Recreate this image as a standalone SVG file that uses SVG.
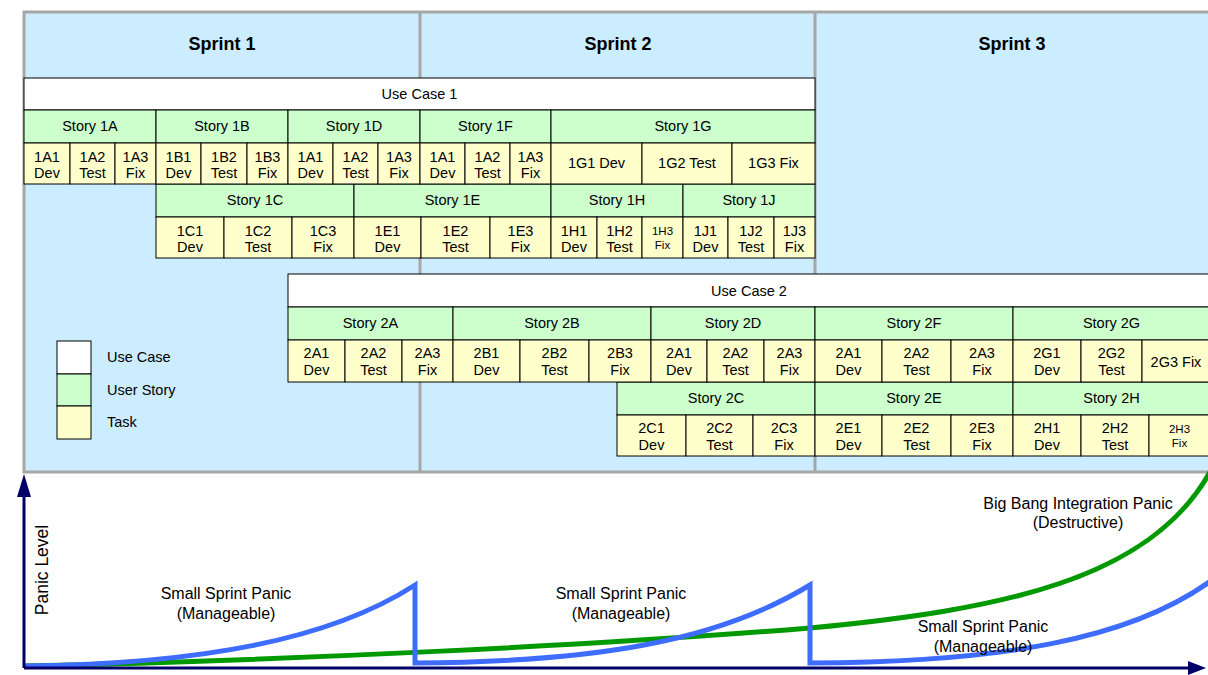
<svg xmlns="http://www.w3.org/2000/svg" width="1208" height="675" viewBox="0 0 1208 675">
<style>
text{font-family:"Liberation Sans",Arial,sans-serif;fill:#000;text-anchor:middle}
.t{font-size:14.5px}
.s{font-size:11.5px}
.h{font-size:18px;font-weight:bold}
.c{font-size:16px}
.uc{fill:#fff;stroke:#000;stroke-width:1}
.st{fill:#CCFFCC;stroke:#000;stroke-width:1}
.tk{fill:#FFFFCC;stroke:#000;stroke-width:1}
.div{stroke:#A6A6A6;stroke-width:3;fill:none}
.bg{fill:#CCECFF;stroke:#A6A6A6;stroke-width:3}
.blue{fill:none;stroke:#3D6CFF;stroke-width:5}
.green{fill:none;stroke:#009900;stroke-width:5}
.ax{stroke:#000066;stroke-width:3;fill:none}
</style>
<rect width="1208" height="675" fill="#fff"/>
<g id="sprints">
<rect x="24" y="12" width="1200" height="460" class="bg"/>
<line x1="420" y1="12" x2="420" y2="472" class="div"/>
<line x1="815" y1="12" x2="815" y2="472" class="div"/>
<text x="222" y="50" class="h">Sprint 1</text>
<text x="618" y="50" class="h">Sprint 2</text>
<text x="1012" y="50" class="h">Sprint 3</text>
</g>
<g id="usecase1">
<rect x="24" y="78" width="791" height="32" class="uc"/>
<text x="419.5" y="99" class="t">Use Case 1</text>
</g>
<g id="stories1">
<rect x="24" y="110" width="132" height="33" class="st"/><text x="90" y="131" class="t">Story 1A</text>
<rect x="156" y="110" width="132" height="33" class="st"/><text x="222" y="131" class="t">Story 1B</text>
<rect x="288" y="110" width="132" height="33" class="st"/><text x="354" y="131" class="t">Story 1D</text>
<rect x="420" y="110" width="131" height="33" class="st"/><text x="485.5" y="131" class="t">Story 1F</text>
<rect x="551" y="110" width="264" height="33" class="st"/><text x="683" y="131" class="t">Story 1G</text>
<rect x="156" y="184" width="198" height="33" class="st"/><text x="255" y="205" class="t">Story 1C</text>
<rect x="354" y="184" width="197" height="33" class="st"/><text x="452.5" y="205" class="t">Story 1E</text>
<rect x="551" y="184" width="132" height="33" class="st"/><text x="617" y="205" class="t">Story 1H</text>
<rect x="683" y="184" width="132" height="33" class="st"/><text x="749" y="205" class="t">Story 1J</text>
</g>
<g id="tasks1">
<rect x="24" y="143" width="46" height="41" class="tk"/><text x="47" y="161.5" class="t">1A1</text><text x="47" y="178" class="t">Dev</text>
<rect x="70" y="143" width="45" height="41" class="tk"/><text x="92.5" y="161.5" class="t">1A2</text><text x="92.5" y="178" class="t">Test</text>
<rect x="115" y="143" width="41" height="41" class="tk"/><text x="135.5" y="161.5" class="t">1A3</text><text x="135.5" y="178" class="t">Fix</text>
<rect x="156" y="143" width="45" height="41" class="tk"/><text x="178.5" y="161.5" class="t">1B1</text><text x="178.5" y="178" class="t">Dev</text>
<rect x="201" y="143" width="46" height="41" class="tk"/><text x="224" y="161.5" class="t">1B2</text><text x="224" y="178" class="t">Test</text>
<rect x="247" y="143" width="41" height="41" class="tk"/><text x="267.5" y="161.5" class="t">1B3</text><text x="267.5" y="178" class="t">Fix</text>
<rect x="288" y="143" width="45" height="41" class="tk"/><text x="310.5" y="161.5" class="t">1A1</text><text x="310.5" y="178" class="t">Dev</text>
<rect x="333" y="143" width="45" height="41" class="tk"/><text x="355.5" y="161.5" class="t">1A2</text><text x="355.5" y="178" class="t">Test</text>
<rect x="378" y="143" width="42" height="41" class="tk"/><text x="399" y="161.5" class="t">1A3</text><text x="399" y="178" class="t">Fix</text>
<rect x="420" y="143" width="45" height="41" class="tk"/><text x="442.5" y="161.5" class="t">1A1</text><text x="442.5" y="178" class="t">Dev</text>
<rect x="465" y="143" width="45" height="41" class="tk"/><text x="487.5" y="161.5" class="t">1A2</text><text x="487.5" y="178" class="t">Test</text>
<rect x="510" y="143" width="41" height="41" class="tk"/><text x="530.5" y="161.5" class="t">1A3</text><text x="530.5" y="178" class="t">Fix</text>
<rect x="551" y="143" width="91" height="41" class="tk"/><text x="596.5" y="168" class="t">1G1 Dev</text>
<rect x="642" y="143" width="90" height="41" class="tk"/><text x="687" y="168" class="t">1G2 Test</text>
<rect x="732" y="143" width="83" height="41" class="tk"/><text x="773.5" y="168" class="t">1G3 Fix</text>
<rect x="156" y="217" width="68" height="41" class="tk"/><text x="190" y="235.5" class="t">1C1</text><text x="190" y="252" class="t">Dev</text>
<rect x="224" y="217" width="68" height="41" class="tk"/><text x="258" y="235.5" class="t">1C2</text><text x="258" y="252" class="t">Test</text>
<rect x="292" y="217" width="62" height="41" class="tk"/><text x="323" y="235.5" class="t">1C3</text><text x="323" y="252" class="t">Fix</text>
<rect x="354" y="217" width="67" height="41" class="tk"/><text x="387.5" y="235.5" class="t">1E1</text><text x="387.5" y="252" class="t">Dev</text>
<rect x="421" y="217" width="69" height="41" class="tk"/><text x="455.5" y="235.5" class="t">1E2</text><text x="455.5" y="252" class="t">Test</text>
<rect x="490" y="217" width="61" height="41" class="tk"/><text x="520.5" y="235.5" class="t">1E3</text><text x="520.5" y="252" class="t">Fix</text>
<rect x="551" y="217" width="46" height="41" class="tk"/><text x="574" y="235.5" class="t">1H1</text><text x="574" y="252" class="t">Dev</text>
<rect x="597" y="217" width="45" height="41" class="tk"/><text x="619.5" y="235.5" class="t">1H2</text><text x="619.5" y="252" class="t">Test</text>
<rect x="642" y="217" width="41" height="41" class="tk"/><text x="662.5" y="234.5" class="s">1H3</text><text x="662.5" y="248.5" class="s">Fix</text>
<rect x="683" y="217" width="45" height="41" class="tk"/><text x="705.5" y="235.5" class="t">1J1</text><text x="705.5" y="252" class="t">Dev</text>
<rect x="728" y="217" width="46" height="41" class="tk"/><text x="751" y="235.5" class="t">1J2</text><text x="751" y="252" class="t">Test</text>
<rect x="774" y="217" width="41" height="41" class="tk"/><text x="794.5" y="235.5" class="t">1J3</text><text x="794.5" y="252" class="t">Fix</text>
</g>
<g id="usecase2">
<rect x="288" y="274" width="922" height="33" class="uc"/>
<text x="749" y="296" class="t">Use Case 2</text>
</g>
<g id="stories2">
<rect x="288" y="307" width="165" height="33" class="st"/><text x="370.5" y="328" class="t">Story 2A</text>
<rect x="453" y="307" width="198" height="33" class="st"/><text x="552" y="328" class="t">Story 2B</text>
<rect x="651" y="307" width="164" height="33" class="st"/><text x="733" y="328" class="t">Story 2D</text>
<rect x="815" y="307" width="198" height="33" class="st"/><text x="914" y="328" class="t">Story 2F</text>
<rect x="1013" y="307" width="197" height="33" class="st"/><text x="1111.5" y="328" class="t">Story 2G</text>
<rect x="617" y="382" width="198" height="33" class="st"/><text x="716" y="403" class="t">Story 2C</text>
<rect x="815" y="382" width="198" height="33" class="st"/><text x="914" y="403" class="t">Story 2E</text>
<rect x="1013" y="382" width="197" height="33" class="st"/><text x="1111.5" y="403" class="t">Story 2H</text>
</g>
<g id="tasks2">
<rect x="288" y="340" width="57" height="42" class="tk"/><text x="316.5" y="358" class="t">2A1</text><text x="316.5" y="374.5" class="t">Dev</text>
<rect x="345" y="340" width="57" height="42" class="tk"/><text x="373.5" y="358" class="t">2A2</text><text x="373.5" y="374.5" class="t">Test</text>
<rect x="402" y="340" width="51" height="42" class="tk"/><text x="427.5" y="358" class="t">2A3</text><text x="427.5" y="374.5" class="t">Fix</text>
<rect x="453" y="340" width="67" height="42" class="tk"/><text x="486.5" y="358" class="t">2B1</text><text x="486.5" y="374.5" class="t">Dev</text>
<rect x="520" y="340" width="69" height="42" class="tk"/><text x="554.5" y="358" class="t">2B2</text><text x="554.5" y="374.5" class="t">Test</text>
<rect x="589" y="340" width="62" height="42" class="tk"/><text x="620" y="358" class="t">2B3</text><text x="620" y="374.5" class="t">Fix</text>
<rect x="651" y="340" width="56" height="42" class="tk"/><text x="679" y="358" class="t">2A1</text><text x="679" y="374.5" class="t">Dev</text>
<rect x="707" y="340" width="57" height="42" class="tk"/><text x="735.5" y="358" class="t">2A2</text><text x="735.5" y="374.5" class="t">Test</text>
<rect x="764" y="340" width="51" height="42" class="tk"/><text x="789.5" y="358" class="t">2A3</text><text x="789.5" y="374.5" class="t">Fix</text>
<rect x="815" y="340" width="67" height="42" class="tk"/><text x="848.5" y="358" class="t">2A1</text><text x="848.5" y="374.5" class="t">Dev</text>
<rect x="882" y="340" width="69" height="42" class="tk"/><text x="916.5" y="358" class="t">2A2</text><text x="916.5" y="374.5" class="t">Test</text>
<rect x="951" y="340" width="62" height="42" class="tk"/><text x="982" y="358" class="t">2A3</text><text x="982" y="374.5" class="t">Fix</text>
<rect x="1013" y="340" width="68" height="42" class="tk"/><text x="1047" y="358" class="t">2G1</text><text x="1047" y="374.5" class="t">Dev</text>
<rect x="1081" y="340" width="61" height="42" class="tk"/><text x="1111.5" y="358" class="t">2G2</text><text x="1111.5" y="374.5" class="t">Test</text>
<rect x="1142" y="340" width="68" height="42" class="tk"/><text x="1176" y="366.5" class="t">2G3 Fix</text>
<rect x="617" y="415" width="69" height="41" class="tk"/><text x="651.5" y="433" class="t">2C1</text><text x="651.5" y="449.5" class="t">Dev</text>
<rect x="686" y="415" width="67" height="41" class="tk"/><text x="719.5" y="433" class="t">2C2</text><text x="719.5" y="449.5" class="t">Test</text>
<rect x="753" y="415" width="62" height="41" class="tk"/><text x="784" y="433" class="t">2C3</text><text x="784" y="449.5" class="t">Fix</text>
<rect x="815" y="415" width="67" height="41" class="tk"/><text x="848.5" y="433" class="t">2E1</text><text x="848.5" y="449.5" class="t">Dev</text>
<rect x="882" y="415" width="69" height="41" class="tk"/><text x="916.5" y="433" class="t">2E2</text><text x="916.5" y="449.5" class="t">Test</text>
<rect x="951" y="415" width="62" height="41" class="tk"/><text x="982" y="433" class="t">2E3</text><text x="982" y="449.5" class="t">Fix</text>
<rect x="1013" y="415" width="68" height="41" class="tk"/><text x="1047" y="433" class="t">2H1</text><text x="1047" y="449.5" class="t">Dev</text>
<rect x="1081" y="415" width="68" height="41" class="tk"/><text x="1115" y="433" class="t">2H2</text><text x="1115" y="449.5" class="t">Test</text>
<rect x="1149" y="415" width="61" height="41" class="tk"/><text x="1179.5" y="432.5" class="s">2H3</text><text x="1179.5" y="446.5" class="s">Fix</text>
</g>
<g id="legend">
<rect x="57" y="341" width="34" height="33" class="uc"/>
<rect x="57" y="374" width="34" height="32" class="st"/>
<rect x="57" y="406" width="34" height="33" class="tk"/>
<text x="107" y="362" class="t" style="text-anchor:start">Use Case</text>
<text x="107" y="395" class="t" style="text-anchor:start">User Story</text>
<text x="107" y="427" class="t" style="text-anchor:start">Task</text>
</g>
<g id="connectors">
<path class="green" d="M24,666 C300,660 600,645 810,628 C1000,610 1150,580 1210,472"/>
<path class="blue" d="M24,666 C200,664 330,640 415,585 L415,663 C600,662 720,640 810,585 L810,663 C1000,662 1130,640 1212,580"/>
<line class="ax" x1="24" y1="668" x2="24" y2="490"/>
<polygon points="24,474 17,497 31,497" fill="#000066"/>
<line class="ax" x1="24" y1="668" x2="1190" y2="668"/>
<polygon points="1206,668 1188,661 1188,675" fill="#000066"/>
</g>
<g id="labels">
<text x="48" y="570" style="font-size:17.5px" transform="rotate(-90 48 570)">Panic Level</text>
<text x="226" y="599" class="c">Small Sprint Panic</text>
<text x="226" y="619" class="c">(Manageable)</text>
<text x="621" y="599" class="c">Small Sprint Panic</text>
<text x="621" y="619" class="c">(Manageable)</text>
<text x="983" y="632" class="c">Small Sprint Panic</text>
<text x="983" y="652" class="c">(Manageable)</text>
<text x="1078" y="509" class="c">Big Bang Integration Panic</text>
<text x="1078" y="528" class="c">(Destructive)</text>
</g>
</svg>
